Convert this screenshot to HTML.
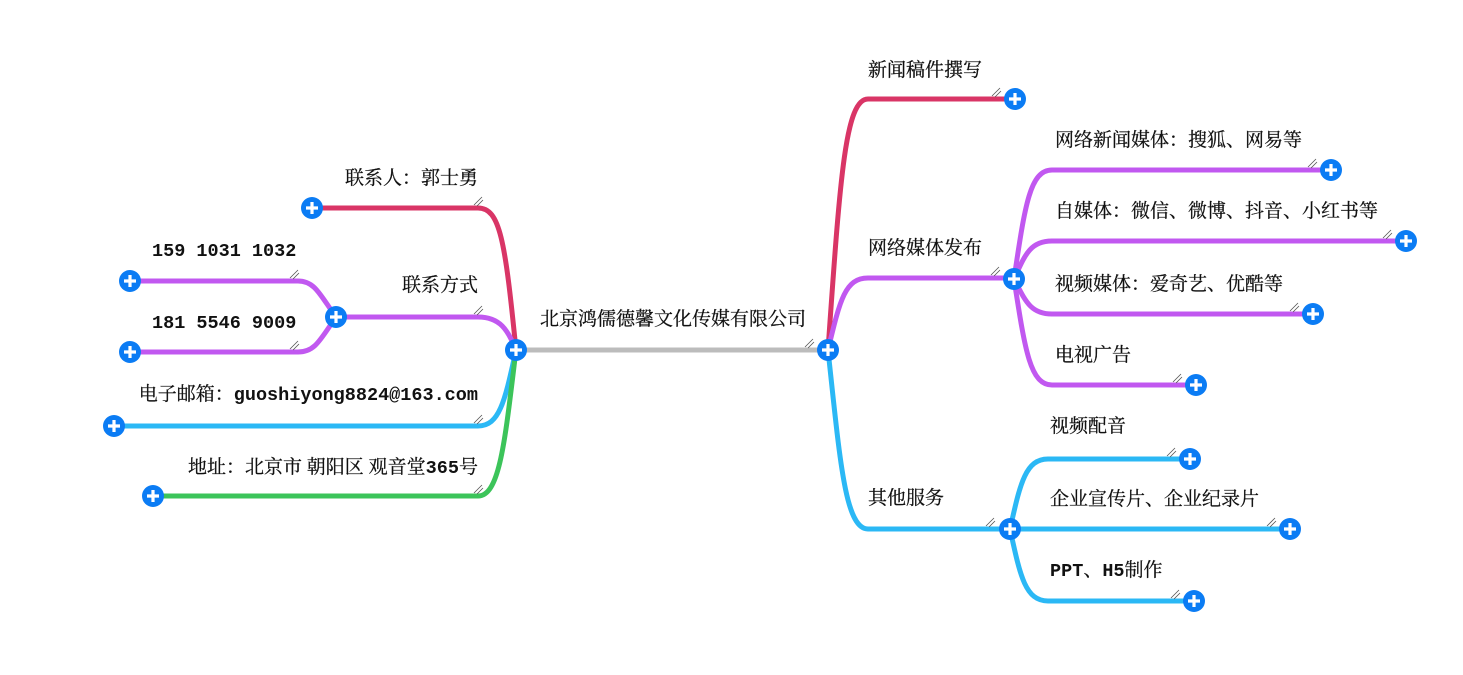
<!DOCTYPE html>
<html><head><meta charset="utf-8"><style>
html,body{margin:0;padding:0;background:#fff;}
svg{display:block;}
.t{font-family:"Noto Serif CJK SC","Liberation Serif","Noto Sans CJK SC",serif;font-size:19px;fill:#111;stroke:#111;stroke-width:0.25;}
.m{font-family:"Liberation Mono",monospace;font-size:18.5px;font-weight:bold;fill:#111;stroke:none;}
</style></head><body>
<svg width="1463" height="675" viewBox="0 0 1463 675" xmlns="http://www.w3.org/2000/svg">
<defs>
<g id="p"><circle r="11" fill="#0b7cf4"/><path d="M-6,0H6M0,-6V6" stroke="#fff" stroke-width="3.2"/></g>
<g id="h"><path d="M-5,3L3,-5M-2,4L4,-2" stroke="#555" stroke-width="0.8"/></g>
</defs>
<g fill="none" stroke-width="5" stroke-linecap="round">
<path d="M516,350H828" stroke="#bcbcbc"/>
<path d="M516,350C505,240 500,208 478,208H312" stroke="#d93566"/>
<path d="M516,350C508,330 500,317 478,317H336" stroke="#c158f0"/>
<path d="M336,317C320,295 315,281 298,281H130" stroke="#c158f0"/>
<path d="M336,317C320,340 315,352 298,352H130" stroke="#c158f0"/>
<path d="M516,350C505,400 500,426 478,426H114" stroke="#2bb8f5"/>
<path d="M516,350C505,440 500,496 478,496H153" stroke="#3cc45a"/>
<path d="M828,350C840,180 845,99 868,99H1015" stroke="#d93566"/>
<path d="M828,350C840,300 845,278 868,278H1014" stroke="#c158f0"/>
<path d="M1014,279C1025,205 1030,170 1052,170H1331" stroke="#c158f0"/>
<path d="M1014,279C1025,255 1030,241 1052,241H1406" stroke="#c158f0"/>
<path d="M1014,279C1025,300 1030,314 1052,314H1313" stroke="#c158f0"/>
<path d="M1014,279C1025,350 1030,385 1052,385H1196" stroke="#c158f0"/>
<path d="M828,350C840,460 845,529 868,529H1010" stroke="#2bb8f5"/>
<path d="M1010,529C1020,485 1025,459 1048,459H1190" stroke="#2bb8f5"/>
<path d="M1010,529H1290" stroke="#2bb8f5"/>
<path d="M1010,529C1020,575 1025,601 1048,601H1194" stroke="#2bb8f5"/>
</g>
<use href="#h" x="810" y="344"/>
<use href="#h" x="479" y="202"/><use href="#h" x="479" y="311"/>
<use href="#h" x="295" y="275"/><use href="#h" x="295" y="346"/>
<use href="#h" x="479" y="420"/><use href="#h" x="479" y="490"/>
<use href="#h" x="997" y="93"/><use href="#h" x="996" y="272"/>
<use href="#h" x="1313" y="164"/><use href="#h" x="1388" y="235"/>
<use href="#h" x="1295" y="308"/><use href="#h" x="1178" y="379"/>
<use href="#h" x="991" y="523"/><use href="#h" x="1172" y="453"/>
<use href="#h" x="1272" y="523"/><use href="#h" x="1176" y="595"/>
<use href="#p" x="516" y="350"/><use href="#p" x="828" y="350"/>
<use href="#p" x="312" y="208"/><use href="#p" x="336" y="317"/>
<use href="#p" x="130" y="281"/><use href="#p" x="130" y="352"/>
<use href="#p" x="114" y="426"/><use href="#p" x="153" y="496"/>
<use href="#p" x="1015" y="99"/><use href="#p" x="1014" y="279"/>
<use href="#p" x="1331" y="170"/><use href="#p" x="1406" y="241"/>
<use href="#p" x="1313" y="314"/><use href="#p" x="1196" y="385"/>
<use href="#p" x="1010" y="529"/><use href="#p" x="1190" y="459"/>
<use href="#p" x="1290" y="529"/><use href="#p" x="1194" y="601"/>
<text class="t" x="540" y="325">北京鸿儒德馨文化传媒有限公司</text>
<text class="t" x="478" y="184" text-anchor="end">联系人：郭士勇</text>
<text class="t" x="478" y="291" text-anchor="end">联系方式</text>
<text class="m" x="152" y="256">159 1031 1032</text>
<text class="m" x="152" y="328">181 5546 9009</text>
<text class="t" x="478" y="400" text-anchor="end">电子邮箱：<tspan class="m">guoshiyong8824@163.com</tspan></text>
<text class="t" x="478" y="473" text-anchor="end">地址：北京市 朝阳区 观音堂<tspan class="m">365</tspan>号</text>
<text class="t" x="868" y="76">新闻稿件撰写</text>
<text class="t" x="868" y="254">网络媒体发布</text>
<text class="t" x="1055" y="146">网络新闻媒体：搜狐、网易等</text>
<text class="t" x="1055" y="217">自媒体：微信、微博、抖音、小红书等</text>
<text class="t" x="1055" y="290">视频媒体：爱奇艺、优酷等</text>
<text class="t" x="1055" y="361">电视广告</text>
<text class="t" x="868" y="504">其他服务</text>
<text class="t" x="1050" y="432">视频配音</text>
<text class="t" x="1050" y="505">企业宣传片、企业纪录片</text>
<text class="t" x="1050" y="576"><tspan class="m">PPT</tspan>、<tspan class="m">H5</tspan>制作</text>
</svg>
</body></html>
